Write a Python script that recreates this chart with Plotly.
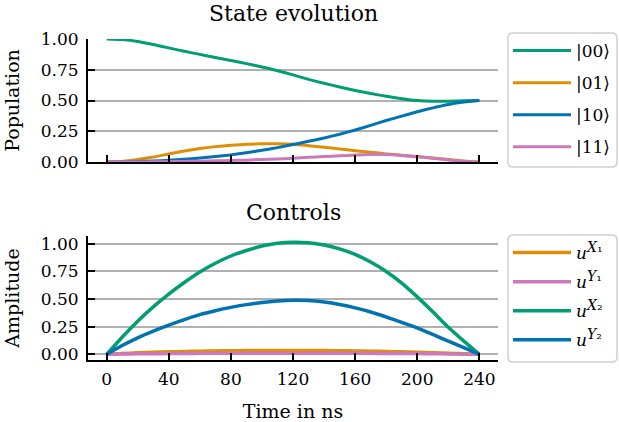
import plotly.graph_objects as go

# ---- data ----
t_ns = [0, 10, 20, 30, 40, 50, 60, 70, 80, 90, 100, 110, 120,
        130, 140, 150, 160, 170, 180, 190, 200, 210, 220, 230, 240]

pop_00 = [1.00, 0.995, 0.98, 0.955, 0.928, 0.90, 0.875, 0.85, 0.825, 0.80, 0.772, 0.742, 0.708,
          0.672, 0.64, 0.61, 0.582, 0.557, 0.535, 0.515, 0.50, 0.494, 0.494, 0.497, 0.50]
pop_01 = [0.0, 0.005, 0.02, 0.04, 0.065, 0.09, 0.11, 0.125, 0.136, 0.145, 0.148, 0.148, 0.144,
          0.133, 0.12, 0.106, 0.092, 0.079, 0.066, 0.055, 0.044, 0.032, 0.02, 0.008, 0.0]
pop_10 = [0.0, 0.0, 0.004, 0.008, 0.014, 0.022, 0.032, 0.044, 0.058, 0.075, 0.095, 0.117, 0.142,
          0.168, 0.195, 0.226, 0.26, 0.298, 0.337, 0.373, 0.408, 0.44, 0.468, 0.488, 0.50]
pop_11 = [0.0, 0.0, 0.0, 0.002, 0.003, 0.005, 0.007, 0.01, 0.012, 0.015, 0.02, 0.025, 0.03,
          0.038, 0.045, 0.05, 0.056, 0.06, 0.06, 0.053, 0.042, 0.03, 0.017, 0.006, 0.0]

u_x1 = [0.0, 0.008, 0.014, 0.019, 0.023, 0.026, 0.029, 0.031, 0.033, 0.034, 0.035, 0.035, 0.035,
        0.035, 0.034, 0.033, 0.031, 0.029, 0.026, 0.023, 0.019, 0.015, 0.010, 0.005, 0.0]
u_y1 = [0.0, 0.003, 0.005, 0.006, 0.007, 0.008, 0.009, 0.009, 0.010, 0.010, 0.010, 0.010, 0.010,
        0.010, 0.010, 0.010, 0.009, 0.009, 0.008, 0.008, 0.007, 0.006, 0.004, 0.002, 0.0]
u_x2 = [0.0, 0.155, 0.30, 0.43, 0.545, 0.65, 0.745, 0.825, 0.89, 0.94, 0.98, 1.005, 1.015,
        1.01, 0.99, 0.955, 0.905, 0.835, 0.75, 0.645, 0.52, 0.385, 0.245, 0.12, 0.0]
u_y2 = [0.0, 0.08, 0.15, 0.21, 0.265, 0.315, 0.36, 0.395, 0.425, 0.45, 0.47, 0.483, 0.49,
        0.487, 0.473, 0.451, 0.421, 0.383, 0.338, 0.29, 0.24, 0.18, 0.12, 0.06, 0.0]

x_ticks = [0, 40, 80, 120, 160, 200, 240]
y_ticks = [0.0, 0.25, 0.5, 0.75, 1.0]
y_ticklabels = ["0.00", "0.25", "0.50", "0.75", "1.00"]

state_names = ["|00⟩", "|01⟩", "|10⟩", "|11⟩"]
SUPSTYLE = "font-size:14px"
control_names = [
    f"<i>u</i><sup><span style='{SUPSTYLE}'><i>X</i>₁</span></sup>",
    f"<i>u</i><sup><span style='{SUPSTYLE}'><i>Y</i>₁</span></sup>",
    f"<i>u</i><sup><span style='{SUPSTYLE}'><i>X</i>₂</span></sup>",
    f"<i>u</i><sup><span style='{SUPSTYLE}'><i>Y</i>₂</span></sup>",
]

GREEN, ORANGE, BLUE, PINK = "#029e73", "#de8f05", "#0173b2", "#cc78bc"
FONT = "DejaVu Serif"

fig = go.Figure()

for name, vals, col in zip(state_names, [pop_00, pop_01, pop_10, pop_11],
                           [GREEN, ORANGE, BLUE, PINK]):
    fig.add_trace(go.Scatter(x=t_ns, y=vals, mode="lines", name=name,
                             line=dict(color=col, width=3, shape="spline", smoothing=0.6),
                             xaxis="x", yaxis="y", legend="legend",
                             legendgroup=name))

for name, vals, col in zip(control_names, [u_x1, u_y1, u_x2, u_y2],
                           [ORANGE, PINK, GREEN, BLUE]):
    fig.add_trace(go.Scatter(x=t_ns, y=vals, mode="lines", name=name,
                             line=dict(color=col, width=3.5, shape="spline", smoothing=0.6),
                             xaxis="x2", yaxis="y2", legend="legend2",
                             legendgroup=name))

W, H = 619, 422
ML, MR = 88, 121
PW = W - ML - MR


def px_x(px):
    return (px - ML) / PW


def px_y(py):
    return 1 - py / H


def rounded_box(x0, y0, x1, y1, r=5):
    # rounded legend frame, corners given in pixels, converted to paper coords
    rx, ry = r / PW, r / H
    a, b, c, d = px_x(x0), px_y(y1), px_x(x1), px_y(y0)  # left, bottom, right, top
    return (f"M{a + rx},{b} L{c - rx},{b} Q{c},{b} {c},{b + ry} L{c},{d - ry} "
            f"Q{c},{d} {c - rx},{d} L{a + rx},{d} Q{a},{d} {a},{d - ry} "
            f"L{a},{b + ry} Q{a},{b} {a + rx},{b} Z")


axis_common = dict(showline=True, linecolor="black", linewidth=2, mirror=False,
                   ticks="inside", tickcolor="black", tickwidth=2, ticklen=7,
                   zeroline=False, automargin=False,
                   tickfont=dict(family=FONT, size=17, color="black"))

fig.update_layout(
    width=W, height=H,
    margin=dict(l=ML, r=MR, t=0, b=0, autoexpand=False),
    paper_bgcolor="white", plot_bgcolor="white",
    font=dict(family=FONT, size=17, color="black"),
    xaxis=dict(domain=[0, 1], range=[-12, 252], tickvals=x_ticks, showticklabels=False,
               showgrid=False, anchor="y", **axis_common),
    yaxis=dict(domain=[1 - 162 / H, 1 - 39 / H], range=[0, 1.0], tickvals=y_ticks,
               ticktext=y_ticklabels, showgrid=True, gridcolor="#b0b0b0", gridwidth=1.5,
               anchor="x", ticklabelstandoff=4,
               title=dict(text="Population", font=dict(family=FONT, size=19), standoff=16),
               **axis_common),
    xaxis2=dict(domain=[0, 1], range=[-12, 252], tickvals=x_ticks, showgrid=False,
                anchor="y2", ticklabelstandoff=3,
                title=dict(text="Time in ns", font=dict(family=FONT, size=19), standoff=16),
                **axis_common),
    yaxis2=dict(domain=[1 - 360 / H, 1 - 236 / H], range=[-0.051, 1.071], tickvals=y_ticks,
                ticktext=y_ticklabels, showgrid=True, gridcolor="#b0b0b0", gridwidth=1.5,
                anchor="x2", ticklabelstandoff=4,
                title=dict(text="Amplitude", font=dict(family=FONT, size=19), standoff=16),
                **axis_common),
    legend=dict(x=508 / W, y=1 - 33 / H, xref="container", yref="container",
                xanchor="left", yanchor="top",
                borderwidth=0, bgcolor="rgba(0,0,0,0)",
                font=dict(family=FONT, size=17), traceorder="grouped",
                tracegroupgap=7, itemwidth=58),
    legend2=dict(x=508 / W, y=1 - 235 / H, xref="container", yref="container",
                 xanchor="left", yanchor="top",
                 borderwidth=0, bgcolor="rgba(0,0,0,0)",
                 font=dict(family=FONT, size=17), traceorder="grouped",
                 tracegroupgap=4, itemwidth=58),
    shapes=[
        dict(type="path", xref="paper", yref="paper", path=rounded_box(508, 33, 617, 167),
             line=dict(color="#d0d0d0", width=1.5), fillcolor="white", layer="above"),
        dict(type="path", xref="paper", yref="paper", path=rounded_box(508, 235, 617, 362),
             line=dict(color="#d0d0d0", width=1.5), fillcolor="white", layer="above"),
    ],
    annotations=[
        dict(text="State evolution", x=0.5, y=1 - 13 / H,
             xref="paper", yref="paper", showarrow=False,
             font=dict(family=FONT, size=22, color="black"), yanchor="middle"),
        dict(text="Controls", x=0.5, y=1 - 212 / H,
             xref="paper", yref="paper", showarrow=False,
             font=dict(family=FONT, size=22, color="black"), yanchor="middle"),
    ],
)

fig.write_html("out.html", config={"displayModeBar": False},
               post_script="document.body.style.margin='0px';")
